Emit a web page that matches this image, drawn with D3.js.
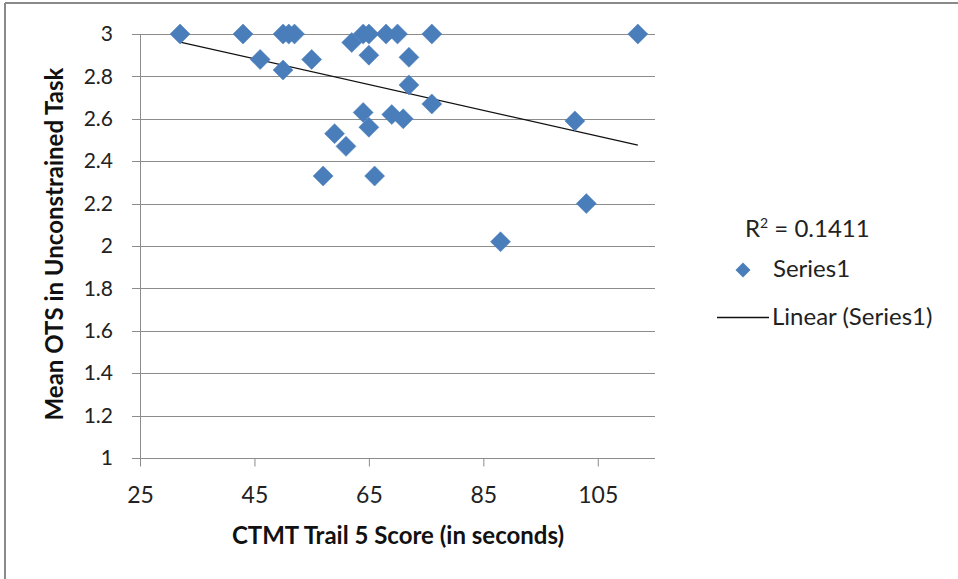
<!DOCTYPE html>
<html><head><meta charset="utf-8">
<script src="https://cdn.jsdelivr.net/npm/d3@7"></script>
<style>body{margin:0;background:#fff;} svg{display:block;}</style>
</head><body>
<script>
// Data
const trailScore = [32, 43, 46, 50, 50, 51, 52, 55, 57, 59, 61, 62, 64, 65, 65, 64, 65, 66, 68, 69, 70, 71, 72, 72, 76, 76, 88, 101, 103, 112];
const meanOTS   = [3, 3, 2.88, 3, 2.83, 3, 3, 2.88, 2.33, 2.53, 2.47, 2.96, 3, 3, 2.9, 2.63, 2.56, 2.33, 3, 2.62, 3, 2.6, 2.89, 2.76, 3, 2.67, 2.02, 2.59, 2.2, 3];
const trendX = [32, 112];
const trendY = [2.962, 2.476];
const xTicks = [25, 45, 65, 85, 105];
const yTicks = [1, 1.2, 1.4, 1.6, 1.8, 2, 2.2, 2.4, 2.6, 2.8, 3];
const rSquared = "0.1411";

const W = 958, H = 579;
const font = "Lato, 'Open Sans', sans-serif";
const svg = d3.select("body").append("svg").attr("width", W).attr("height", H);

// outer frame (top + left visible)
svg.append("line").attr("x1", 5).attr("y1", 3).attr("x2", W).attr("y2", 3).attr("stroke", "#8a8a8a").attr("stroke-width", 2);
svg.append("line").attr("x1", 5).attr("y1", 3).attr("x2", 5).attr("y2", H).attr("stroke", "#8a8a8a").attr("stroke-width", 2);

const x = d3.scaleLinear().domain([25, 115]).range([140, 655]);
const y = d3.scaleLinear().domain([1, 3]).range([458, 34]);

// gridlines
svg.append("g").selectAll("line").data(yTicks).join("line")
  .attr("x1", 132).attr("x2", 655)
  .attr("y1", d => Math.round(y(d)) + 0.5).attr("y2", d => Math.round(y(d)) + 0.5)
  .attr("stroke", "#8c8c8c").attr("stroke-width", 1);

// y axis line
svg.append("line").attr("x1", 140.5).attr("x2", 140.5).attr("y1", y(3)).attr("y2", y(1) + 8)
  .attr("stroke", "#8c8c8c");

// x axis ticks
const xAxis = d3.axisBottom(x).tickValues(xTicks).tickSize(8).tickSizeOuter(0).tickPadding(20);
const gx = svg.append("g").attr("transform", `translate(0,${Math.round(y(1)) + 0.5})`).call(xAxis);
gx.select(".domain").attr("stroke", "#8c8c8c").attr("d", `M132,0H655`);
gx.selectAll(".tick line").attr("stroke", "#8c8c8c");
gx.selectAll(".tick text").attr("font-family", font).attr("font-size", 23).attr("fill", "#222");

// y tick labels
const yAxis = d3.axisLeft(y).tickValues(yTicks).tickSize(0).tickPadding(0).tickFormat(d => d3.format("~g")(d));
const gy = svg.append("g").attr("transform", "translate(113,0)").call(yAxis);
gy.select(".domain").remove();
gy.selectAll(".tick text").attr("font-family", font).attr("font-size", 21).attr("fill", "#222");

// trend line
svg.append("path")
  .datum(trendX.map((d, i) => [d, trendY[i]]))
  .attr("d", d3.line().x(d => x(d[0])).y(d => y(d[1])))
  .attr("fill", "none").attr("stroke", "#111").attr("stroke-width", 1.3);

// points
const diamond = d3.symbol().type(d3.symbolSquare).size(200);
svg.append("g").selectAll("path").data(trailScore.map((d, i) => [d, meanOTS[i]])).join("path")
  .attr("d", diamond)
  .attr("transform", d => `translate(${x(d[0])},${y(d[1])}) rotate(45)`)
  .attr("fill", "#4a7ebb").attr("stroke", "#4a7ebb").attr("stroke-width", 0.5);

// axis titles
svg.append("text").attr("x", 398).attr("y", 544).attr("text-anchor", "middle")
  .attr("font-family", font).attr("font-size", 24).attr("font-weight", "bold").attr("fill", "#111")
  .text("CTMT Trail 5 Score (in seconds)");
svg.append("text").attr("transform", "translate(63,244) rotate(-90)").attr("text-anchor", "middle")
  .attr("font-family", font).attr("font-size", 24).attr("font-weight", "bold").attr("fill", "#111")
  .text("Mean OTS in Unconstrained Task");

// legend
const lg = svg.append("g").attr("font-family", font).attr("font-size", 24).attr("fill", "#222");
const rt = lg.append("text").attr("x", 745).attr("y", 237);
rt.append("tspan").text("R");
rt.append("tspan").attr("font-size", 14).attr("dy", -9).text("2");
rt.append("tspan").attr("dy", 9).text(" = " + rSquared);
lg.append("path").attr("d", d3.symbol().type(d3.symbolSquare).size(112))
  .attr("transform", "translate(743,270) rotate(45)").attr("fill", "#4a7ebb");
lg.append("text").attr("x", 773).attr("y", 277).text("Series1");
lg.append("line").attr("x1", 717).attr("x2", 769).attr("y1", 317.5).attr("y2", 317.5).attr("stroke", "#111").attr("stroke-width", 1.3);
lg.append("text").attr("x", 772).attr("y", 325).text("Linear (Series1)");
</script>
</body></html>
